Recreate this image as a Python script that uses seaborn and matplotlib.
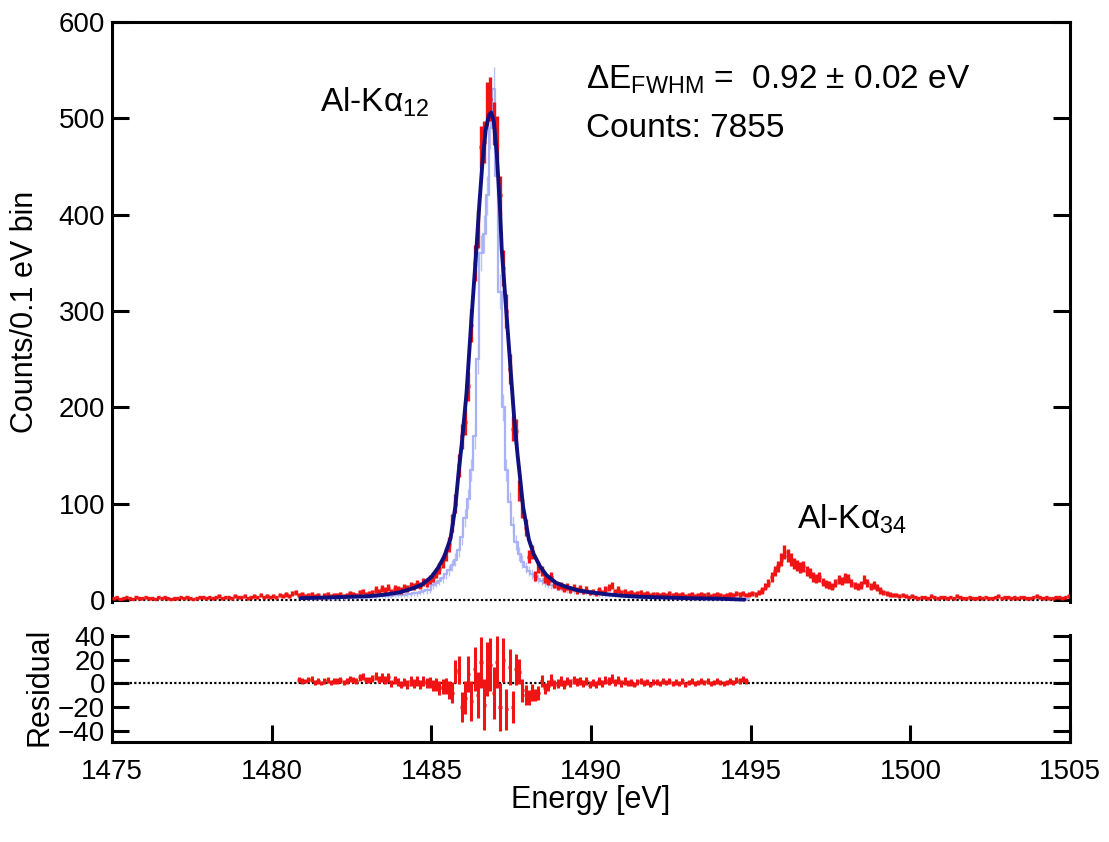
import numpy as np
import pandas as pd
import matplotlib
matplotlib.use("Agg")
import matplotlib.pyplot as plt
import seaborn as sns

# ---------------- data ----------------
bin_width = 0.1
e_start, e_stop = 1475.0, 1505.0

# measured counts per 0.1 eV bin, 1475.0 ... 1505.0 (one row = 1 eV)
counts = [
    2, 3, 1, 2, 3, 2, 1, 3, 2, 2,            # 1475
    3, 2, 2, 1, 3, 2, 3, 2, 1, 2,            # 1476
    2, 3, 2, 3, 2, 1, 2, 3, 3, 2,            # 1477
    3, 2, 3, 4, 2, 3, 3, 2, 4, 3,            # 1478
    3, 4, 2, 3, 4, 3, 5, 3, 4, 3,            # 1479
    4, 3, 5, 4, 6, 4, 7, 8, 5, 6,            # 1480
    4, 5, 6, 4, 5, 3, 5, 6, 4, 5,            # 1481
    5, 6, 4, 5, 7, 6, 5, 8, 9, 6,            # 1482
    7, 8, 11, 9, 12, 10, 13, 9, 12, 11,      # 1483
    10, 13, 12, 15, 14, 17, 15, 19, 18, 21,  # 1484
    24, 28, 33, 40, 47, 58, 80, 100, 140, 170,        # 1485
    185, 222, 285, 350, 385, 470, 475, 515, 520, 495,  # 1486
    480, 420, 345, 300, 240, 178, 175, 114, 95, 75,    # 1487
    45, 50, 25, 34, 30, 22, 20, 24, 17, 14,  # 1488
    15, 12, 14, 11, 13, 10, 12, 9, 11, 8,    # 1489
    9, 7, 10, 8, 11, 13, 15, 9, 11, 8,       # 1490
    9, 7, 8, 6, 7, 8, 6, 7, 5, 6,            # 1491
    6, 5, 6, 5, 7, 5, 6, 5, 6, 4,            # 1492
    5, 6, 4, 5, 6, 5, 6, 4, 5, 6,            # 1493
    5, 4, 5, 6, 5, 7, 6, 7, 5, 6,            # 1494
    7, 6, 8, 10, 14, 18, 24, 30, 35, 42,     # 1495
    50, 46, 42, 38, 36, 34, 35, 30, 28, 24,  # 1496
    22, 24, 19, 17, 16, 14, 18, 21, 20, 23,  # 1497
    22, 18, 15, 14, 16, 21, 18, 14, 16, 13,  # 1498
    10, 8, 7, 6, 5, 5, 4, 5, 4, 3,           # 1499
    4, 3, 2, 3, 3, 2, 4, 3, 2, 3,            # 1500
    3, 2, 3, 2, 4, 3, 2, 2, 3, 2,            # 1501
    2, 3, 2, 3, 2, 2, 3, 4, 2, 3,            # 1502
    3, 2, 3, 2, 3, 3, 2, 2, 3, 4,            # 1503
    3, 2, 3, 2, 2, 3, 3, 2, 3, 4,            # 1504
]

# natural (intrinsic) Al-Ka line shape, 0.1 eV bins from 1481.0 to 1495.0
natural_start = 1481.0
natural = [
    2, 2, 2, 2, 2, 2, 2, 2, 2, 2,
    2, 2, 2, 2, 3, 3, 3, 3, 3, 3,
    3, 3, 3, 4, 4, 4, 4, 4, 5, 5,
    5, 5, 6, 6, 7, 7, 8, 9, 10, 11,
    16, 18, 20, 23, 27, 31, 36, 42, 52, 65,
    85, 105, 135, 170, 250, 360, 380, 420, 490, 530,
    440, 320, 200, 135, 102, 78, 60, 48, 40, 34,
    30, 27, 24, 22, 20, 18, 17, 16, 15, 14,
    13, 12, 11, 10, 10, 9, 9, 8, 8, 7,
    7, 7, 6, 6, 6, 5, 5, 5, 5, 4,
    4, 4, 4, 4, 4, 3, 3, 3, 3, 3,
    3, 3, 3, 3, 3, 3, 2, 2, 2, 2,
    2, 2, 2, 2, 2, 2, 2, 2, 2, 2,
    2, 2, 2, 1, 1, 1, 1, 1, 1, 1,
]

# fitted model curve
fit_energy = [1480.9, 1481.5, 1482.0, 1482.5, 1483.0, 1483.5, 1484.0, 1484.4, 1484.7,
              1485.0, 1485.2, 1485.4, 1485.6, 1485.75, 1485.85, 1485.95, 1486.1, 1486.25,
              1486.4, 1486.5, 1486.6, 1486.7, 1486.8, 1486.87, 1486.95, 1487.05, 1487.15,
              1487.2, 1487.3, 1487.4, 1487.5, 1487.6, 1487.7, 1487.76, 1487.87, 1488.05,
              1488.2, 1488.4, 1488.6, 1488.9, 1489.2, 1489.6, 1490.0, 1490.5, 1491.0,
              1491.5, 1492.0, 1493.0, 1494.0, 1494.8]
fit_counts = [2, 2.5, 3, 3.5, 4, 5.5, 8, 12, 16,
              24, 33, 45, 64, 97, 132, 162, 215, 290,
              360, 410, 455, 488, 503, 506, 498, 462, 405,
              365, 320, 275, 230, 185, 150, 132, 97, 63,
              48, 35, 26, 18, 14, 10, 8, 6, 4.5,
              3.5, 3, 2, 1.5, 0.5]

# residuals (data - fit), 0.1 eV bins from 1480.8 to 1494.9
resid_start = 1480.8
residual = [
    3, 2,
    2, 3, 4, 1, 2, 0, 2, 3, 1, 2,
    2, 3, 1, 2, 4, 3, 2, 5, 6, 3,
    3, 4, 6, 3, 5, 3, 5, 0, 3, 1,
    -1, 1, -1, 2, 0, 2, -1, 2, 0, 1,
    -2, -1, -4, -3, -2, -6, -8, 10, 11, -20,
    -12, 8, -15, 12, -10, 18, -18, 12, 16, -8,
    18, -20, 20, -22, 14, -20, 12, 10, -6, -10,
    -12, -8, -10, -8, 2, -4, -2, 3, -1, 0,
    2, -1, 2, 0, 3, 1, 2, 0, 2, -1,
    1, -1, 2, 0, 3, 2, 4, 1, 3, 0,
    2, 0, 1, -1, 1, 2, 0, 1, -1, 1,
    1, 0, 2, 1, 2, 0, 1, 0, 2, -1,
    1, 2, 0, 1, 2, 1, 2, 0, 1, 2,
    1, 0, 1, 2, 1, 3, 2, 4, 2,
]

xticks = [1475, 1480, 1485, 1490, 1495, 1500, 1505]
yticks_main = [0, 100, 200, 300, 400, 500, 600]
yticks_res = [-40, -20, 0, 20, 40]

# ---------------- build frames ----------------
n_bins = len(counts)
centers = e_start + bin_width * (np.arange(n_bins) + 0.5)
df = pd.DataFrame({"energy": centers, "counts": counts})
df["err"] = np.sqrt(np.maximum(df["counts"], 1))

nat_centers = natural_start + bin_width * (np.arange(len(natural)) + 0.5)
df_nat = pd.DataFrame({"energy": nat_centers, "counts": natural})

df_fit = pd.DataFrame({"energy": fit_energy, "counts": fit_counts})

i0 = int(round((resid_start - e_start) / bin_width))
res_centers = resid_start + bin_width * (np.arange(len(residual)) + 0.5)
df_res = pd.DataFrame({"energy": res_centers, "res": residual,
                       "err": df["err"].values[i0:i0 + len(residual)]})

# ---------------- style ----------------
sns.set_theme(style="ticks")
plt.rcParams["font.family"] = ["Liberation Sans", "DejaVu Sans"]
plt.rcParams["mathtext.fontset"] = "custom"
plt.rcParams["mathtext.rm"] = "Liberation Sans"
plt.rcParams["mathtext.it"] = "Liberation Sans:italic"
plt.rcParams["mathtext.default"] = "regular"
plt.rcParams["text.color"] = "black"
plt.rcParams["axes.labelcolor"] = "black"

RED = "#f01414"
NAVY = "#10107e"
LIGHT = "#a9b2f5"
LW = 2.2

fig = plt.figure(figsize=(11.09, 8.42), dpi=100)
ax1 = fig.add_axes([0.101, 0.285, 0.864, 0.689])
ax2 = fig.add_axes([0.101, 0.1184, 0.864, 0.1274], sharex=ax1)

# --- main panel ---
ax1.axhline(0, color="black", lw=1.6, ls=(0, (1, 1)), zorder=1)
sns.lineplot(data=df_nat, x="energy", y="counts", drawstyle="steps-mid",
             color=LIGHT, lw=1.6, estimator=None, ax=ax1, zorder=2)
ax1.errorbar(df_nat["energy"], df_nat["counts"], yerr=np.sqrt(df_nat["counts"]),
             fmt="none", ecolor=LIGHT, elinewidth=1.0, alpha=0.8, zorder=2)
ax1.errorbar(df["energy"], df["counts"], yerr=df["err"], xerr=bin_width / 2,
             fmt="none", ecolor=RED, elinewidth=2.4, zorder=3)
sns.lineplot(data=df_fit, x="energy", y="counts", color=NAVY, lw=2.8,
             estimator=None, ax=ax1, zorder=4)

ax1.set_xlim(e_start, e_stop)
ax1.set_ylim(-2, 600)
ax1.set_yticks(yticks_main)
ax1.set_xlabel("")
ax1.set_ylabel("Counts/0.1 eV bin", fontsize=22)
ax1.yaxis.set_label_coords(-0.075, 0.5)
ax1.spines["bottom"].set_visible(False)
for s in ["left", "right", "top"]:
    ax1.spines[s].set_linewidth(LW)
    ax1.spines[s].set_color("black")
ax1.tick_params(axis="y", which="both", direction="in", length=12, width=LW,
                labelsize=20, right=True, left=True, pad=5, colors="black")
ax1.tick_params(axis="x", bottom=False, labelbottom=False)

ax1.text(1481.5, 507, "Al-Kα$_{12}$", fontsize=24, va="baseline", ha="left")
ax1.text(1496.45, 74, "Al-Kα$_{34}$", fontsize=24, va="baseline", ha="left")
ax1.text(1489.85, 531, r"ΔE$_{\mathrm{FWHM}}$ =  0.92 ± 0.02 eV", fontsize=24,
         va="baseline", ha="left")
ax1.text(1489.85, 481, "Counts: 7855", fontsize=24, va="baseline", ha="left")

# --- residual panel ---
ax2.axhline(0, color="black", lw=1.6, ls=(0, (1, 1)), zorder=1)
ax2.errorbar(df_res["energy"], df_res["res"], yerr=df_res["err"], xerr=bin_width / 2,
             fmt="none", ecolor=RED, elinewidth=2.2, zorder=3)
ax2.set_ylim(-50, 41)
ax2.set_yticks(yticks_res)
ax2.set_xticks(xticks)
ax2.set_xlim(e_start, e_stop)
ax2.set_xlabel("Energy [eV]", fontsize=22)
ax2.xaxis.set_label_coords(0.5, -0.40)
ax2.set_ylabel("Residual", fontsize=22)
ax2.yaxis.set_label_coords(-0.0595, 0.52)
ax2.spines["top"].set_visible(False)
for s in ["left", "right", "bottom"]:
    ax2.spines[s].set_linewidth(LW)
    ax2.spines[s].set_color("black")
ax2.tick_params(axis="both", which="both", direction="in", length=12, width=LW,
                labelsize=20, colors="black")
ax2.tick_params(axis="x", pad=12)
ax2.tick_params(axis="y", right=True, left=True, pad=5)

fig.savefig("out.png", dpi=100)
